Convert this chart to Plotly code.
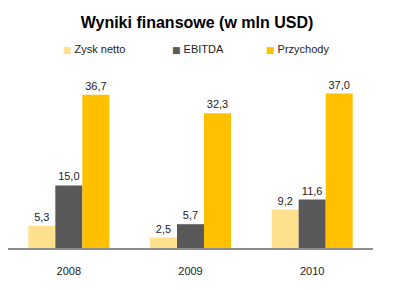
import plotly.graph_objects as go

years = ["2008", "2009", "2010"]
zysk_netto = [5.3, 2.5, 9.2]
ebitda = [15.0, 5.7, 11.6]
przychody = [36.7, 32.3, 37.0]
series_names = ["Zysk netto", "EBITDA", "Przychody"]
colors = ["#FFE08C", "#595959", "#FFC000"]
legend_symbol_x = [63, 172, 266]

FONT = "Liberation Sans"
fig = go.Figure()
legend_ids = ["legend", "legend2", "legend3"]
for name, vals, col, lid in zip(series_names, [zysk_netto, ebitda, przychody], colors, legend_ids):
    fig.add_trace(go.Bar(
        x=years, y=vals, name=name, marker=dict(color=col, line=dict(width=0)),
        text=[f"{v:.1f}".replace(".", ",") for v in vals],
        textposition="outside", cliponaxis=False,
        textfont=dict(family=FONT, size=11, color="#222222"),
        showlegend=False,
    ))
    fig.add_trace(go.Scatter(
        x=[None], y=[None], mode="markers",
        name=f"<span style='color:{col};font-family:DejaVu Sans;font-size:9px'>■</span> {name}",
        marker=dict(symbol="square", size=1, color="rgba(0,0,0,0)"),
        showlegend=True, legend=lid,
    ))

legend_common = dict(orientation="h", yref="container", y=1 - 49 / 290, yanchor="middle",
                     xref="container", xanchor="left",
                     font=dict(family=FONT, size=11, color="#222222"),
                     itemwidth=30, bgcolor="rgba(0,0,0,0)", borderwidth=0)

fig.update_layout(
    width=394, height=290,
    margin=dict(l=8, r=21, t=81, b=42),
    paper_bgcolor="white", plot_bgcolor="white",
    barmode="group", bargap=0.334, bargroupgap=0,
    title=dict(text="<b>Wyniki finansowe (w mln USD)</b>", x=0.5, xanchor="center",
               y=1 - 22 / 290, yanchor="middle",
               font=dict(family=FONT, size=16, color="black")),
    legend=dict(x=(legend_symbol_x[0] - 40) / 394, **legend_common),
    legend2=dict(x=(legend_symbol_x[1] - 40) / 394, **legend_common),
    legend3=dict(x=(legend_symbol_x[2] - 40) / 394, **legend_common),
    xaxis=dict(showline=True, linecolor="#8C8C8C", linewidth=1.5, ticks="",
               tickfont=dict(family=FONT, size=11, color="#222222"),
               ticklabelstandoff=12, showgrid=False, zeroline=False),
    yaxis=dict(range=[0, 40], visible=False, showgrid=False, zeroline=False),
)

fig.write_html("out.html")
